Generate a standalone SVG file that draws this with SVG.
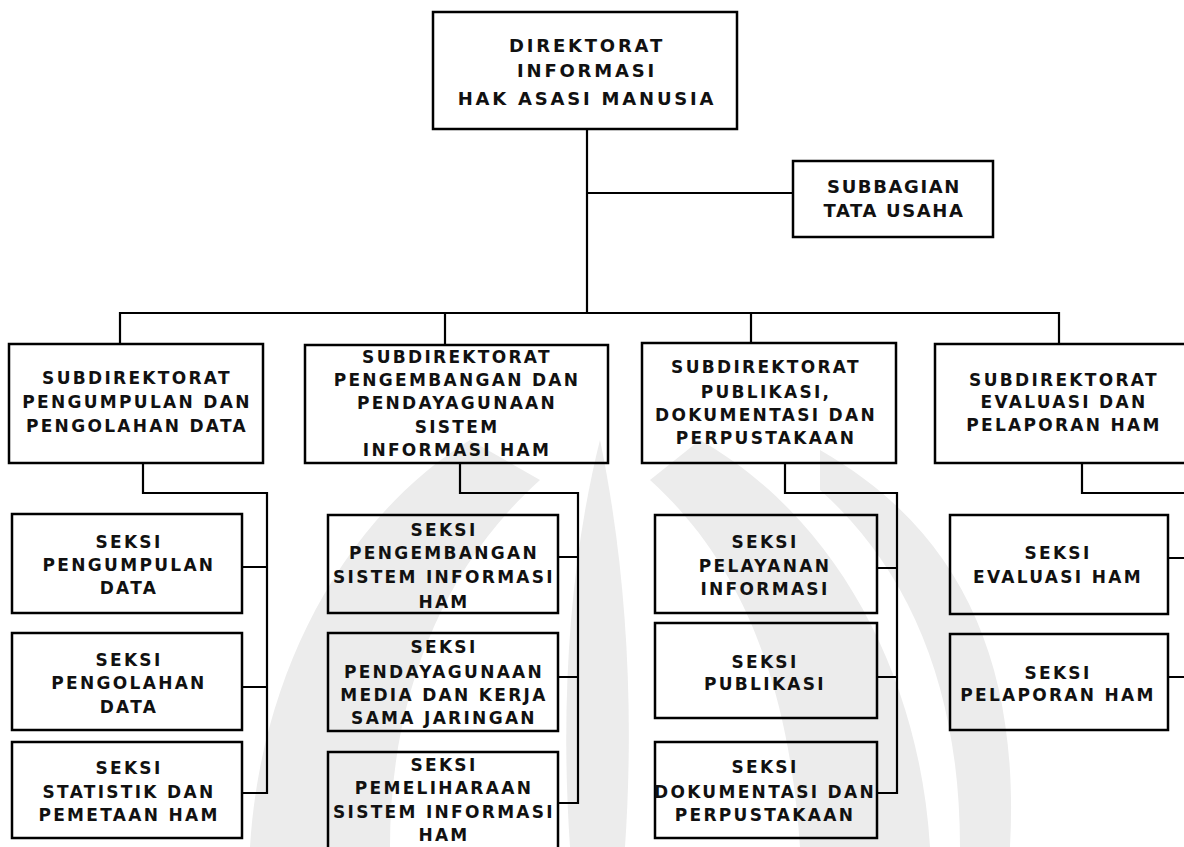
<svg xmlns="http://www.w3.org/2000/svg" width="1184" height="847" viewBox="0 0 1184 847">
<style>
.box{fill:none;stroke:#000;stroke-width:2.5}
.conn{fill:none;stroke:#000;stroke-width:2.2}
.t{font-family:"DejaVu Sans","Liberation Sans",Arial,sans-serif;font-weight:bold;font-size:17px;letter-spacing:2.3px;text-anchor:middle;fill:#111}
.tb{font-size:18px;letter-spacing:2.8px}
.ts{font-size:18px;letter-spacing:1.6px}
.wm{fill:#ececec;stroke:none}
</style>
<rect x="0" y="0" width="1184" height="847" fill="#fff"/>
<g id="watermark">
<path class="wm" d="M470 440 C340 520 260 680 250 847 L390 847 C390 700 440 570 540 480 Z"/>
<path class="wm" d="M600 440 C570 560 560 700 570 847 L625 847 C635 700 625 560 600 440 Z"/>
<path class="wm" d="M700 440 C840 520 920 680 930 847 L800 847 C790 700 750 570 650 480 Z"/>
<path class="wm" d="M820 450 C960 530 1020 660 1010 847 L960 847 C960 690 910 570 820 490 Z"/>
</g>
<g id="connectors">
<path class="conn" d="M587 129 V313"/>
<path class="conn" d="M587 193 H793"/>
<path class="conn" d="M120 344 V313 H1059 V344"/>
<path class="conn" d="M445 313 V345"/>
<path class="conn" d="M751 313 V343"/>
<path class="conn" d="M143 463 V493 H267 V793 H242"/>
<path class="conn" d="M242 567 H267 M242 687 H267"/>
<path class="conn" d="M460 463 V493 H578 V803 H558"/>
<path class="conn" d="M558 557 H578 M558 677 H578"/>
<path class="conn" d="M785 463 V493 H897 V793 H877"/>
<path class="conn" d="M877 568 H897 M877 677 H897"/>
<path class="conn" d="M1082 463 V493 H1190"/>
<path class="conn" d="M1168 558 H1190 M1168 677 H1190"/>
</g>
<g id="direktorat">
<rect class="box" x="433" y="12" width="304" height="117"/>
<text class="t tb" x="587" y="52">DIREKTORAT</text>
<text class="t tb" x="587" y="77">INFORMASI</text>
<text class="t tb" x="587" y="105">HAK ASASI MANUSIA</text>
</g>
<g id="subbagian">
<rect class="box" x="793" y="161" width="200" height="76"/>
<text class="t ts" x="894" y="193">SUBBAGIAN</text>
<text class="t ts" x="894" y="217">TATA USAHA</text>
</g>
<g id="subdit1">
<rect class="box" x="9" y="344" width="254" height="119"/>
<text class="t" x="137" y="384">SUBDIREKTORAT</text>
<text class="t" x="137" y="408">PENGUMPULAN DAN</text>
<text class="t" x="137" y="432">PENGOLAHAN DATA</text>
</g>
<g id="subdit2">
<rect class="box" x="305" y="345" width="303" height="118"/>
<text class="t" x="457" y="363">SUBDIREKTORAT</text>
<text class="t" x="457" y="386">PENGEMBANGAN  DAN</text>
<text class="t" x="457" y="409">PENDAYAGUNAAN</text>
<text class="t" x="457" y="433">SISTEM</text>
<text class="t" x="457" y="456">INFORMASI HAM</text>
</g>
<g id="subdit3">
<rect class="box" x="642" y="343" width="254" height="120"/>
<text class="t" x="766" y="373">SUBDIREKTORAT</text>
<text class="t" x="766" y="398">PUBLIKASI,</text>
<text class="t" x="766" y="421">DOKUMENTASI DAN</text>
<text class="t" x="766" y="444">PERPUSTAKAAN</text>
</g>
<g id="subdit4">
<rect class="box" x="935" y="344" width="260" height="119"/>
<text class="t" x="1064" y="386">SUBDIREKTORAT</text>
<text class="t" x="1064" y="408">EVALUASI DAN</text>
<text class="t" x="1064" y="431">PELAPORAN HAM</text>
</g>
<g id="seksi-pengumpulan">
<rect class="box" x="12" y="514" width="230" height="99"/>
<text class="t" x="129" y="548">SEKSI</text>
<text class="t" x="129" y="571">PENGUMPULAN</text>
<text class="t" x="129" y="594">DATA</text>
</g>
<g id="seksi-pengolahan">
<rect class="box" x="12" y="633" width="230" height="97"/>
<text class="t" x="129" y="666">SEKSI</text>
<text class="t" x="129" y="689">PENGOLAHAN</text>
<text class="t" x="129" y="713">DATA</text>
</g>
<g id="seksi-statistik">
<rect class="box" x="12" y="742" width="230" height="96"/>
<text class="t" x="129" y="774">SEKSI</text>
<text class="t" x="129" y="798">STATISTIK DAN</text>
<text class="t" x="129" y="821">PEMETAAN HAM</text>
</g>
<g id="seksi-pengembangan">
<rect class="box" x="328" y="515" width="230" height="98"/>
<text class="t" x="444" y="536">SEKSI</text>
<text class="t" x="444" y="559">PENGEMBANGAN</text>
<text class="t" x="444" y="583">SISTEM INFORMASI</text>
<text class="t" x="444" y="608">HAM</text>
</g>
<g id="seksi-pendayagunaan">
<rect class="box" x="328" y="633" width="230" height="98"/>
<text class="t" x="444" y="653">SEKSI</text>
<text class="t" x="444" y="678">PENDAYAGUNAAN</text>
<text class="t" x="444" y="701">MEDIA DAN KERJA</text>
<text class="t" x="444" y="724">SAMA JARINGAN</text>
</g>
<g id="seksi-pemeliharaan">
<rect class="box" x="328" y="752" width="230" height="100"/>
<text class="t" x="444" y="771">SEKSI</text>
<text class="t" x="444" y="794">PEMELIHARAAN</text>
<text class="t" x="444" y="818">SISTEM INFORMASI</text>
<text class="t" x="444" y="841">HAM</text>
</g>
<g id="seksi-pelayanan">
<rect class="box" x="655" y="515" width="222" height="98"/>
<text class="t" x="765" y="548">SEKSI</text>
<text class="t" x="765" y="572">PELAYANAN</text>
<text class="t" x="765" y="595">INFORMASI</text>
</g>
<g id="seksi-publikasi">
<rect class="box" x="655" y="623" width="222" height="95"/>
<text class="t" x="765" y="668">SEKSI</text>
<text class="t" x="765" y="690">PUBLIKASI</text>
</g>
<g id="seksi-dokumentasi">
<rect class="box" x="655" y="742" width="222" height="96"/>
<text class="t" x="765" y="773">SEKSI</text>
<text class="t" x="765" y="798">DOKUMENTASI DAN</text>
<text class="t" x="765" y="821">PERPUSTAKAAN</text>
</g>
<g id="seksi-evaluasi">
<rect class="box" x="950" y="515" width="218" height="99"/>
<text class="t" x="1058" y="559">SEKSI</text>
<text class="t" x="1058" y="583">EVALUASI HAM</text>
</g>
<g id="seksi-pelaporan">
<rect class="box" x="950" y="634" width="218" height="96"/>
<text class="t" x="1058" y="679">SEKSI</text>
<text class="t" x="1058" y="701">PELAPORAN HAM</text>
</g>
</svg>
